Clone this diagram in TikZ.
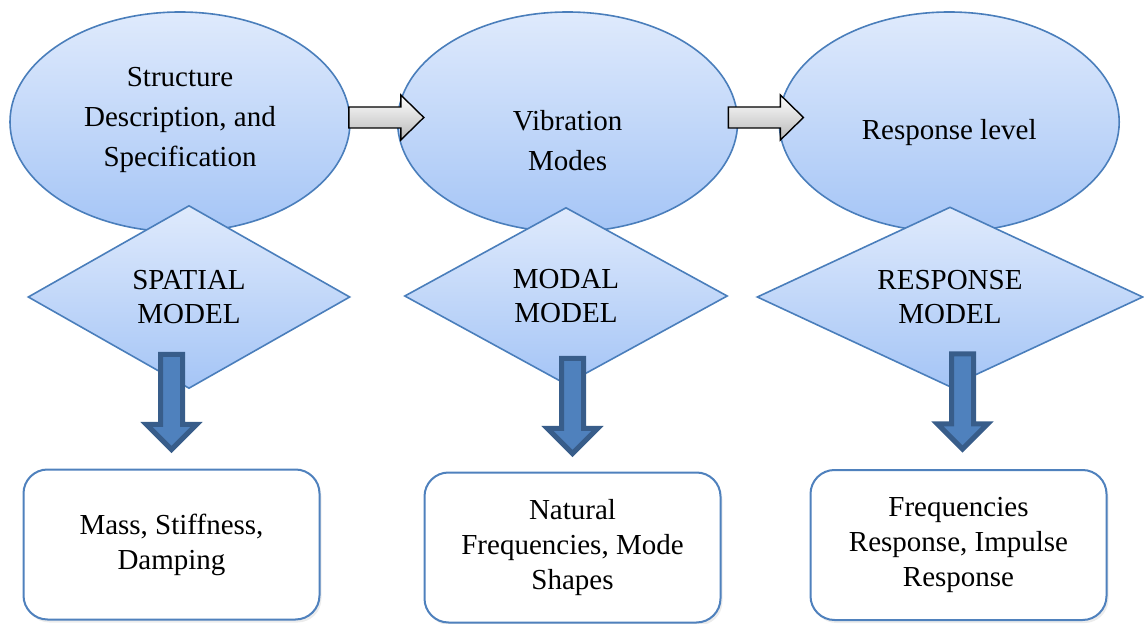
\documentclass[tikz,border=0pt]{standalone}
\usepackage{fontspec}
\setmainfont{Liberation Serif}
\usetikzlibrary{shapes.geometric, positioning, shadows}

\definecolor{bubbletop}{HTML}{DFEAFC}
\definecolor{bubblebot}{HTML}{A5C5F6}
\definecolor{edgeblue}{HTML}{4A7EBB}
\definecolor{arrowblue}{HTML}{4F81BD}
\definecolor{arrowedge}{HTML}{385D8A}

\begin{document}
\begin{tikzpicture}[x=0.5pt, y=-0.5pt, node distance=21pt,
    bubble/.style={ellipse, draw=edgeblue, line width=0.8pt, top color=bubbletop, bottom color=bubblebot,
        minimum width=170pt, minimum height=110pt, inner sep=0pt},
    bubbletext/.style={align=center, font=\fontsize{14.5}{20}\selectfont},
    model/.style={diamond, aspect=2, draw=edgeblue, line width=0.8pt, top color=bubbletop, bottom color=bubblebot,
        inner sep=0pt, align=center, font=\fontsize{14.5}{17}\selectfont},
    result/.style={rectangle, rounded corners=12pt, draw=arrowblue, line width=1pt, fill=white,
        minimum width=148pt, minimum height=75pt, align=center, font=\fontsize{14.5}{17.5}\selectfont,
        drop shadow={opacity=0.15, shadow xshift=1pt, shadow yshift=-1.5pt}},
    greyarrow/.style={draw=black, line width=0.7pt, top color=white, bottom color=black!28},
    bluearrow/.style={draw=arrowedge, line width=2.5pt, fill=arrowblue}]

    \useasboundingbox (0,0) rectangle (1144,624);

    % top row
    \node[bubble, label={[bubbletext, yshift=1pt]center:Structure\\Description, and\\Specification}] (struct) at (180,122) {};
    \node[bubble, right=23pt of struct, label={[bubbletext, yshift=-9.5pt]center:Vibration\\Modes}] (vib) {};
    \node[bubble, right=20pt of vib, label={[bubbletext, yshift=-5.5pt]center:Response level}] (resp) {};

    % models
    \node[model, minimum width=161pt, minimum height=91.5pt] (spatial) at (189,297) {SPATIAL\\MODEL};
    \node[model, minimum width=161.5pt, minimum height=88.5pt] (modal) at (566,296) {MODAL\\MODEL};
    \node[model, minimum width=193pt, minimum height=90pt] (respmodel) at (950,297) {RESPONSE\\MODEL};

    \draw[greyarrow] ([xshift=-1pt, yshift=2.25pt]struct.east) -- ++(0,-10.5) -- ++(52,0) -- ++(0,-12)
        -- ++(23,22.5) -- ++(-23,22.5) -- ++(0,-12) -- ++(-52,0) -- cycle;
    \draw[greyarrow] ([xshift=-5pt, yshift=2.25pt]vib.east) -- ++(0,-10.5) -- ++(52,0) -- ++(0,-12)
        -- ++(23,22.5) -- ++(-23,22.5) -- ++(0,-12) -- ++(-52,0) -- cycle;

    % outputs
    \node[result] (mass) at (171.5,544.5) {Mass, Stiffness,\\Damping};
    \node[result] (natural) at (572.5,547.5) {Natural\\Frequencies, Mode\\Shapes};
    \node[result] (freq) at (958.5,545) {Frequencies\\Response, Impulse\\Response};

    \draw[bluearrow] ([yshift=9.5pt]mass.north) -- ++(-25,-25) -- ++(14,0) -- ++(0,-70) -- ++(22,0)
        -- ++(0,70) -- ++(14,0) -- cycle;
    \draw[bluearrow] ([yshift=9pt]natural.north) -- ++(-25,-25) -- ++(14,0) -- ++(0,-70) -- ++(22,0)
        -- ++(0,70) -- ++(14,0) -- cycle;
    \draw[bluearrow] ([xshift=2pt, yshift=10pt]freq.north) -- ++(-25,-25) -- ++(14,0) -- ++(0,-70) -- ++(22,0)
        -- ++(0,70) -- ++(14,0) -- cycle;

\end{tikzpicture}
\end{document}
